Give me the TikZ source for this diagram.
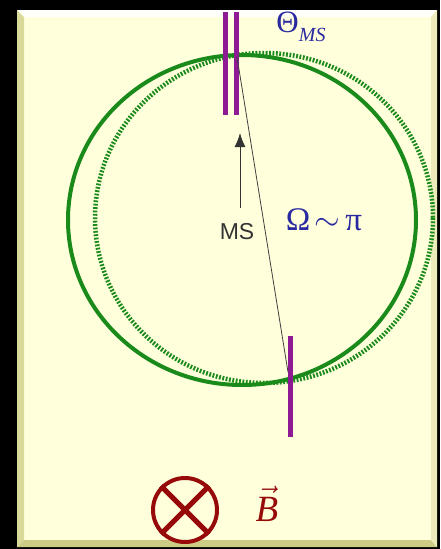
\RequirePackage{fix-cm}
\documentclass[tikz,border=0pt]{standalone}
\usepackage{amsmath, amssymb}
\usepackage{fontspec}
\newfontfamily\arialfont{Liberation Sans}
\newfontfamily\timesfont{Liberation Serif}
\usetikzlibrary{arrows.meta}
\usepackage{xcolor}
\definecolor{panelyellow}{HTML}{FFFFDC}
\definecolor{orbitgreen}{HTML}{1A8A1A}
\definecolor{barpurple}{HTML}{8E1A94}
\definecolor{labelblue}{HTML}{2A2AA0}
\definecolor{fieldred}{HTML}{960A0A}
\tikzset{
    orbit/.style={
        draw=orbitgreen,
        line width=4pt
    },
    orbitdotted/.style={
        draw=orbitgreen,
        line width=4.5pt,
        dash pattern=on 1.8pt off 1.6pt
    },
    slit/.style={
        draw=barpurple,
        line width=5pt
    },
    bluelabel/.style={
        text=labelblue,
        inner sep=0pt
    }
}

\begin{document}
\begin{tikzpicture}[x=1pt, y=-1pt]
  \useasboundingbox (0,0) rectangle (440,549);
  \fill[black] (0,0) rectangle (440,549);

  % Panel with bevelled edges
  \fill[panelyellow] (17,10) rectangle (437,547);
  \fill[white!85!panelyellow] (17,10) -- (437,10) -- (431,17) -- (24,17) -- cycle;
  \fill[panelyellow!70!olive] (17,10) -- (24,17) -- (24,540) -- (17,547) -- cycle;
  \fill[panelyellow!60!olive] (17,547) -- (24,540) -- (431,540) -- (437,547) -- cycle;
  \fill[panelyellow!85!olive] (437,10) -- (431,17) -- (431,540) -- (437,547) -- cycle;

  % Orbits
  \draw[orbitdotted] (264,218) ellipse [x radius=169, y radius=165];
  \draw[orbit] (242,220) ellipse [x radius=174, y radius=165];

  % Slits
  \draw[slit] (225,12) -- (225,115);
  \draw[slit] (236,12) -- (236,115);
  \draw[slit] (290,336) -- (290,437);

  % Chord between the slits
  \coordinate (chordtop) at (237,57);
  \coordinate (chordbot) at (288,372);
  \draw[line width=0.8pt, black!75] (chordtop) -- (chordbot);

  % MS arrow
  \coordinate (mstail) at (240,208);
  \coordinate (mshead) at (240,133);
  \draw[-{Latex[length=14pt, width=11pt]}, line width=1pt, black!80] (mstail) -- (mshead);
  \node[text=black!80, inner sep=0pt] (mslabel) at (237,232) {\arialfont\fontsize{23}{26}\selectfont MS};

  % Labels
  \node[bluelabel] (theta) at (301,27) {\timesfont\fontsize{31}{32}\selectfont Θ\raisebox{-9pt}{\fontsize{20}{22}\selectfont\itshape MS}};
  \node[bluelabel] (omega) at (324,220) {\fontsize{33}{36}\selectfont {\timesfont Ω}$\mkern2mu\sim\mkern3mu${\timesfont π}};

  % Field into the page
  \node[draw=fieldred, circle, line width=4pt, minimum size=64pt, inner sep=0pt] (field) at (185,510) {};
  \draw[fieldred, line width=5pt] (field.north west) -- (field.south east);
  \draw[fieldred, line width=5pt] (field.north east) -- (field.south west);
  \node[text=fieldred, inner sep=0pt] (bvec) at (267,504) {\fontsize{37}{40}\selectfont $\vec{\mbox{\timesfont\itshape B}}$};
\end{tikzpicture}
\end{document}
